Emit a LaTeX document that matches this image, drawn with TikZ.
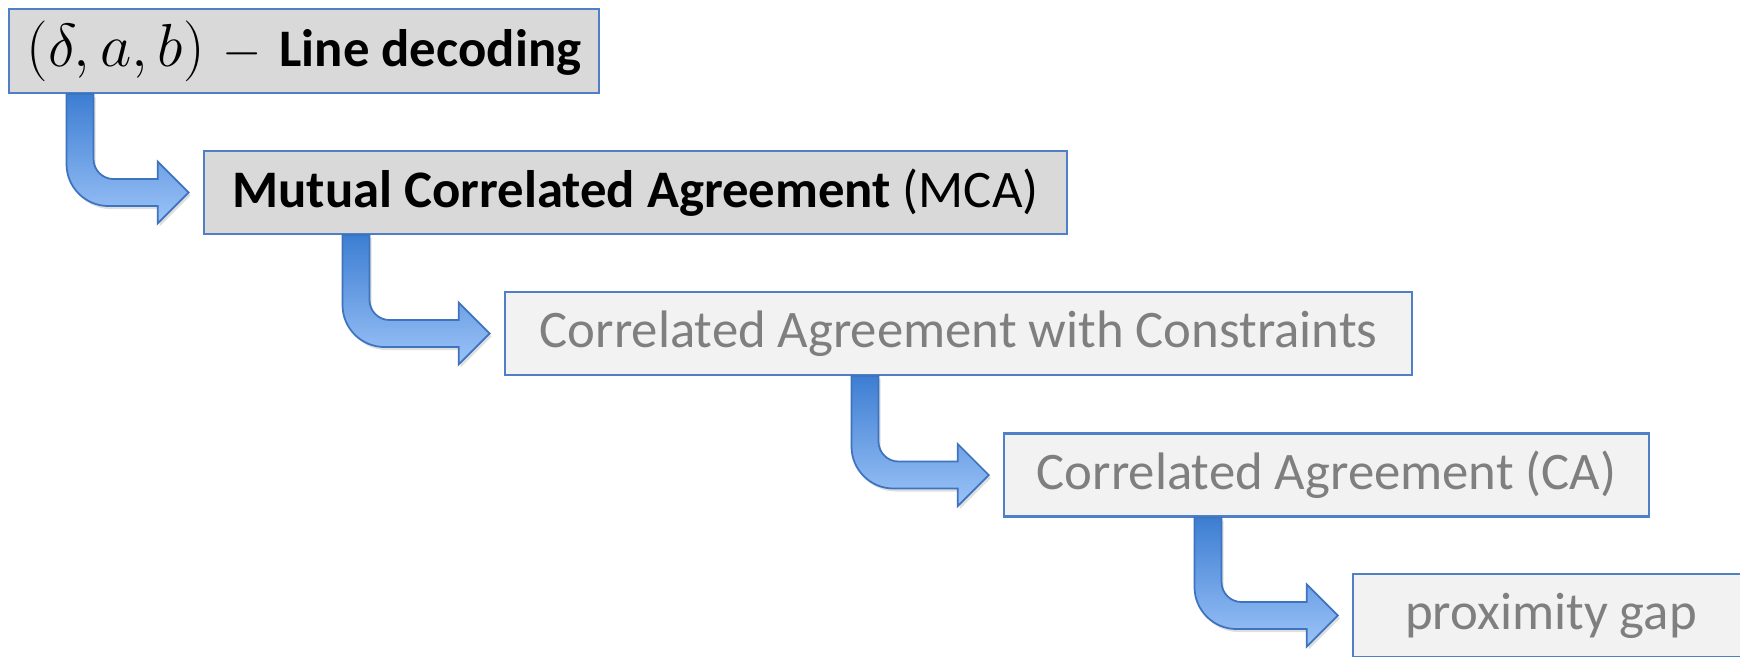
\documentclass[tikz,border=0pt]{standalone}
\usepackage{fontspec}
\setmainfont{Carlito}
\usepackage{tikz}
\usetikzlibrary{calc,shadows}
\usepackage{xcolor}

\definecolor{boxline}{HTML}{4F80C6}
\definecolor{darkfill}{HTML}{D9D9D9}
\definecolor{lightfill}{HTML}{F2F2F2}
\definecolor{greytext}{HTML}{7F7F7F}
\definecolor{arrowtop}{HTML}{3D7ED2}
\definecolor{arrowbot}{HTML}{9CC3F8}
\definecolor{arrowline}{HTML}{3E73BE}

\newcommand{\pxl}{0.01cm}

\begin{document}
\begin{tikzpicture}[x=0.01cm, y=-0.01cm,
    box/.style={rectangle, draw=boxline, line width=0.6pt, inner sep=0pt,
        minimum height=0.83cm, font=\fontsize{15}{18}\selectfont},
    strong/.style={box, fill=darkfill, text=black},
    weak/.style={box, fill=lightfill, text=greytext},
    arrowbody/.style={draw=arrowline, line width=0.5pt, top color=arrowtop,
        bottom color=arrowbot, drop shadow={shadow xshift=0.02cm,
        shadow yshift=-0.03cm, opacity=0.25}}]
    \useasboundingbox (0,0) rectangle (1740,656);

    % Kroki
    \node[strong, minimum width=5.90cm, minimum height=0.84cm] (ld) at (304,51)
        {{\fontsize{17}{18}\selectfont$(\delta,a,b)$}\hspace{5pt}$-$\hspace{5pt}\textbf{Line decoding}};
    \node[strong, minimum width=8.63cm] (mca) at (635.5,192.5)
        {\textbf{Mutual Correlated Agreement} (MCA)};
    \node[weak, minimum width=9.07cm] (cac) at (958.5,333.5)
        {Correlated Agreement with Constraints};
    \node[weak, minimum width=6.45cm] (ca) at (1326.5,475)
        {Correlated Agreement (CA)};
    \node[weak, minimum width=3.96cm] (pg) at (1551,615.5)
        {proximity gap};

    % Strzałki
    \foreach \a/\sx/\b in {ld/80/mca, mca/356/cac, cac/865/ca, ca/1208/pg}
        \path[arrowbody] let \p1 = (\sx,0 |- \a.south), \p2 = (\b.west) in
            ({\x1-13.5*\pxl},\y1) -- ({\x1-13.5*\pxl},{\y2+28.5*\pxl})
            arc[start angle=180, end angle=270, radius=42*\pxl]
            -- ({\x2-45*\pxl},{\y2-13.5*\pxl}) -- ({\x2-45*\pxl},{\y2-31*\pxl})
            -- ({\x2-14*\pxl},\y2) -- ({\x2-45*\pxl},{\y2+31*\pxl})
            -- ({\x2-45*\pxl},{\y2+13.5*\pxl}) -- ({\x1+33.5*\pxl},{\y2+13.5*\pxl})
            arc[start angle=270, end angle=180, radius=20*\pxl]
            -- ({\x1+13.5*\pxl},\y1) -- cycle;

\end{tikzpicture}
\end{document}
